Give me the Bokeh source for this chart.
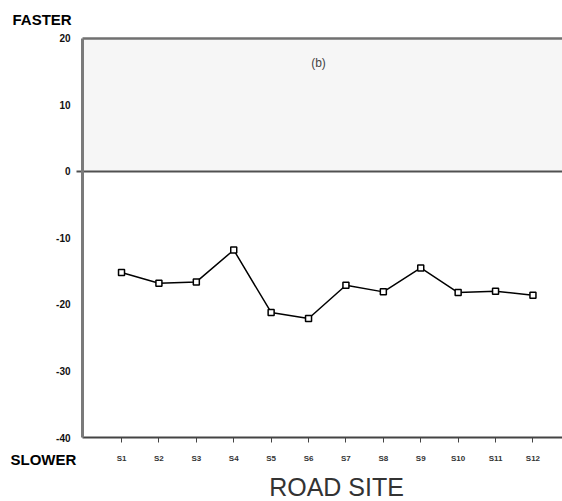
from bokeh.plotting import figure
from bokeh.models import Range1d, FixedTicker, Label, LinearAxis, BoxAnnotation
from bokeh.embed import file_html
from bokeh.resources import INLINE

# Data
sites = ["S1", "S2", "S3", "S4", "S5", "S6", "S7", "S8", "S9", "S10", "S11", "S12"]
site_pos = [1, 2, 3, 4, 5, 6, 7, 8, 9, 10, 11, 12]
speed_diff = [-15.2, -16.8, -16.6, -11.8, -21.2, -22.1, -17.1, -18.1, -14.5, -18.2, -18.0, -18.6]
y_ticks = [20, 10, 0, -10, -20, -30, -40]
y_tick_labels = ["20", "10", "0", "-10", "-20", "-30", "-40"]

FONT = "Liberation Sans"

# axis extents (data units)
X_LEFT, X_RIGHT = -0.043, 12.79
Y_BOTTOM, Y_TOP = -40, 20

# The frame fills the whole canvas; the axes are pinned at fixed locations
p = figure(width=562, height=501, output_backend="svg", toolbar_location=None,
           x_range=Range1d(-2.2355, X_RIGHT), y_range=Range1d(-49.624, 25.714),
           min_border=0, min_border_left=0, min_border_right=0,
           min_border_top=0, min_border_bottom=0)
p.title.visible = False
p.outline_line_color = None
p.xgrid.visible = False
p.ygrid.visible = False
p.background_fill_color = "white"
p.border_fill_color = "white"

# faint band of the upper half (scan tint)
p.add_layout(BoxAnnotation(left=X_LEFT, right=X_RIGHT, bottom=0, top=Y_TOP,
                           fill_color="#f6f6f6", fill_alpha=1, line_color=None,
                           level="underlay"))

# x axis
xa = p.xaxis[0]
xa.fixed_location = Y_BOTTOM
xa.bounds = (X_LEFT, X_RIGHT)
xa.ticker = FixedTicker(ticks=site_pos)
xa.major_label_overrides = {pos: s for pos, s in zip(site_pos, sites)}
xa.major_tick_out = 5
xa.major_tick_in = 0
xa.minor_tick_out = 0
xa.minor_tick_in = 0
xa.axis_line_color = "#444444"
xa.axis_line_width = 2
xa.major_tick_line_color = "#444444"
xa.major_label_text_font = FONT
xa.major_label_text_font_size = "8px"
xa.major_label_text_font_style = "bold"
xa.major_label_text_color = "#333333"
xa.major_label_standoff = 11

# y axis
ya = p.yaxis[0]
ya.fixed_location = X_LEFT
ya.bounds = (Y_BOTTOM, Y_TOP)
ya.ticker = FixedTicker(ticks=y_ticks)
ya.major_label_overrides = {t: l for t, l in zip(y_ticks, y_tick_labels)}
ya.major_tick_out = 0
ya.major_tick_in = 0
ya.minor_tick_out = 0
ya.minor_tick_in = 0
ya.axis_line_color = "#7a7a7a"
ya.axis_line_width = 3
ya.major_label_text_font = FONT
ya.major_label_text_font_size = "10px"
ya.major_label_text_font_style = "bold"
ya.major_label_text_color = "#111111"
ya.major_label_standoff = 12


def rule_axis(location, start, color, width):
    ax = LinearAxis(fixed_location=location, bounds=(start, X_RIGHT),
                    ticker=FixedTicker(ticks=[]), axis_line_color=color,
                    axis_line_width=width, major_tick_line_color=None,
                    minor_tick_line_color=None, major_label_text_alpha=0)
    p.add_layout(ax, "below")


rule_axis(Y_TOP, X_LEFT, "#707070", 2.5)   # top rule at +20
rule_axis(0, -0.2, "#505050", 2)          # zero rule

# series
p.line(site_pos, speed_diff, line_color="black", line_width=1.5)
p.scatter(site_pos, speed_diff, marker="square", size=6, fill_color="white",
          line_color="black", line_width=1.5)

# texts
p.add_layout(Label(x=6.267, y=16.39, text="(b)", text_font=FONT, text_font_size="12px",
                   text_color="#444444", text_align="center", text_baseline="middle"))
p.add_layout(Label(x=-1.915, y=22.85, text="FASTER", text_font=FONT, text_font_size="15px",
                   text_font_style="bold", text_color="black", text_align="left",
                   text_baseline="alphabetic"))
p.add_layout(Label(x=-1.968, y=-43.3, text="SLOWER", text_font=FONT, text_font_size="15px",
                   text_font_style="bold", text_color="black", text_align="left",
                   text_baseline="alphabetic"))
p.add_layout(Label(x=6.749, y=-47.4, text="ROAD SITE", text_font=FONT, text_font_size="25px",
                   text_color="#333333", text_align="center", text_baseline="alphabetic"))

open("out.html", "w").write(file_html(p, INLINE))
